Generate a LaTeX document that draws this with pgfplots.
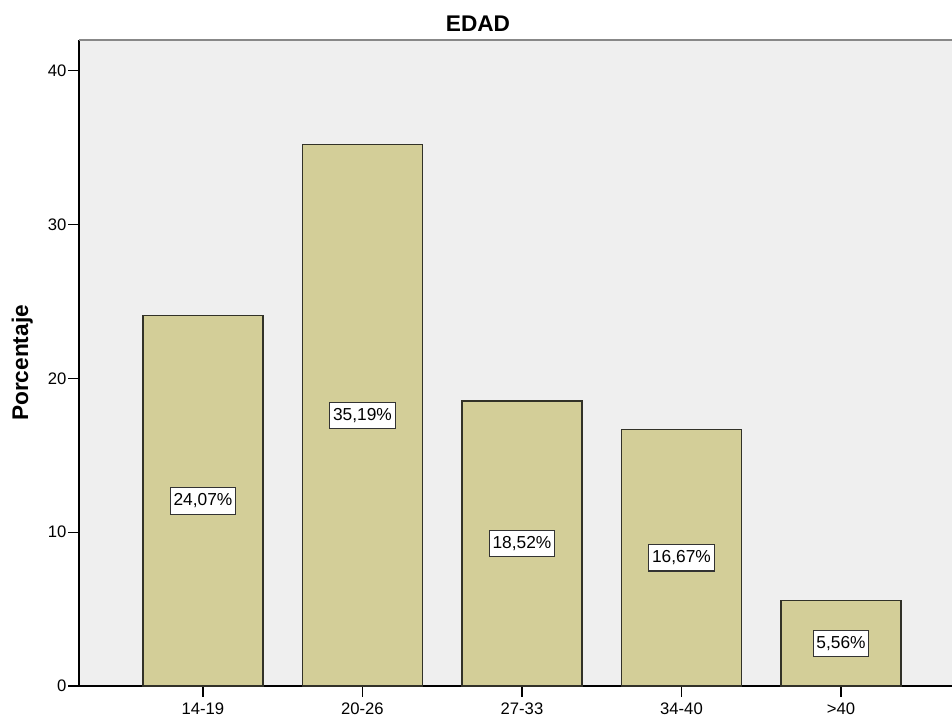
\documentclass[border=0pt]{standalone}
\usepackage{pgfplots}
\pgfplotsset{compat=1.18}
\usepackage{pgfplotstable}
\usepackage{fontspec}
\setmainfont{Liberation Sans}

\definecolor{barfill}{RGB}{211,206,152}
\definecolor{plotbg}{RGB}{239,239,239}
\definecolor{baredge}{RGB}{50,50,40}
\definecolor{frametop}{RGB}{136,136,136}

% Porcentaje por grupo de edad
\pgfplotstableread{
x val
0 24.07
1 35.19
2 18.52
3 16.67
4 5.56
}\edad

\begin{document}
\begin{tikzpicture}[x=0.75pt,y=0.75pt]
\path[use as bounding box] (0,0) rectangle (952,719);
\begin{axis}[
  at={(59.25pt,24.75pt)}, anchor=south west,
  scale only axis, width=654.75pt, height=484.5pt,
  xmin=-0.777, xmax=4.696, ymin=0, ymax=42,
  axis background/.style={fill=plotbg},
  axis x line*=bottom, axis y line*=left,
  axis line style={black, line width=1.1pt},
  xtick={0,1,2,3,4},
  xticklabels={14-19,20-26,27-33,34-40,>40},
  ytick={0,10,20,30,40},
  tick align=outside,
  major tick length=8pt,
  tick style={black, line width=1pt},
  xticklabel style={yshift=-1pt},
  yticklabel style={xshift=2pt},
  ticklabel style={font=\fontsize{12.5}{14}\selectfont},
  /pgf/number format/assume math mode=true,
  every axis y label/.style={at={(axis description cs:-0.065,0.5)},
    rotate=90, anchor=center, font=\fontsize{17}{20}\selectfont\bfseries},
  ylabel={Porcentaje},
  clip=false,
]
\addplot[ybar, bar width=0.752, fill=barfill, draw=baredge, line width=1pt]
  table[x=x, y=val] {\edad};
\addplot[draw=none, mark=none,
  point meta=explicit,
  nodes near coords={\pgfmathprintnumber[fixed, fixed zerofill, precision=2, use comma]{\pgfplotspointmeta}\%},
  every node near coord/.append style={anchor=center, fill=white, draw=black!80,
    line width=0.8pt, inner xsep=2.5pt, inner ysep=4.5pt, font=\fontsize{13}{15}\selectfont}]
  table[x=x, y expr=\thisrow{val}/2, meta=val] {\edad};
\draw[frametop, line width=2pt] (axis cs:-0.777,42) -- (axis cs:4.696,42);
\end{axis}
\node[anchor=base, font=\fontsize{17}{20}\selectfont\bfseries] at (478,687) {EDAD};
\end{tikzpicture}
\end{document}
